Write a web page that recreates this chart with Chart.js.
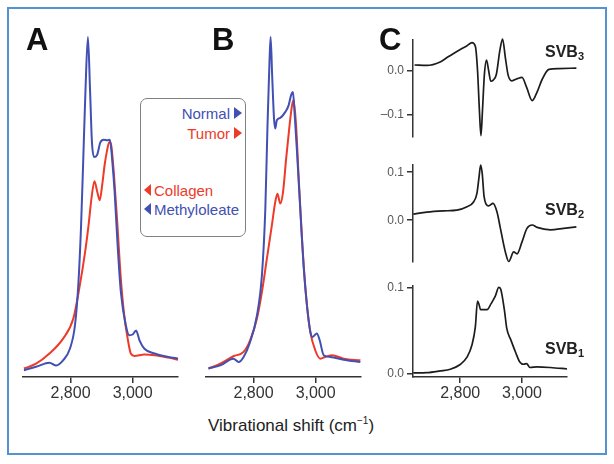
<!DOCTYPE html>
<html><head><meta charset="utf-8">
<script src="https://cdn.jsdelivr.net/npm/chart.js@4/dist/chart.umd.min.js"></script>
<style>
html,body{margin:0;padding:0;background:#fff;}
body{width:614px;height:464px;overflow:hidden;position:relative;font-family:"Liberation Sans",Arial,sans-serif;}
#frame{position:absolute;left:7px;top:7px;width:596px;height:444px;border:2px solid #5393d2;box-sizing:content-box;}
canvas{position:absolute;}
.t{position:absolute;white-space:nowrap;line-height:1;}
.panel{font-weight:bold;font-size:31px;color:#111;}
.svb{font-weight:bold;font-size:16px;color:#222;}
.svb sub{font-size:11px;vertical-align:-3px;}
#legend{position:absolute;left:140px;top:98px;width:106px;height:139px;box-sizing:border-box;border:1.5px solid #808080;border-radius:7px;background:#fff;}
.lg{font-size:15px;}
.tri{position:absolute;width:0;height:0;}
</style></head>
<body>
<div id="frame"></div>

<script>
// ---------- data ----------
const xTickValues = [2800, 3000];
const xTickLabels = ['2,800', '3,000'];

// Panel A
const aNormalX = [2650,2689,2732,2754,2776,2798,2814,2825,2834,2841,2848,2856,2863,2869,2876,2885,2896,2907,2918,2927,2934,2942,2951,2962,2978,2989,3000,3011,3022,3038,3071,3115,3146];
const aNormalY = [0.02,0.03,0.042,0.034,0.049,0.083,0.15,0.27,0.446,0.64,0.84,1.0,0.84,0.69,0.647,0.652,0.69,0.698,0.696,0.698,0.64,0.544,0.397,0.25,0.152,0.123,0.125,0.137,0.108,0.083,0.069,0.059,0.054];
const aTumorX = [2650,2689,2732,2776,2809,2830,2847,2858,2868,2877,2886,2894,2902,2910,2918,2925,2931,2940,2951,2962,2973,2984,2994,3005,3038,3071,3115,3146];
const aTumorY = [0.025,0.039,0.069,0.113,0.172,0.27,0.368,0.446,0.53,0.576,0.545,0.52,0.565,0.625,0.668,0.691,0.681,0.593,0.446,0.289,0.181,0.113,0.069,0.062,0.066,0.064,0.057,0.051];

// Panel B
const bNormalX = [2655,2693,2735,2752,2768,2789,2811,2827,2838,2845,2851,2855,2860,2866,2870,2875,2886,2902,2913,2921,2927,2932,2940,2951,2961,2972,2983,2990,3004,3013,3026,3047,3090,3144];
const bNormalY = [0.025,0.034,0.054,0.044,0.059,0.103,0.181,0.299,0.495,0.74,0.917,1.0,0.887,0.76,0.731,0.755,0.762,0.779,0.799,0.829,0.838,0.779,0.662,0.485,0.329,0.211,0.132,0.118,0.128,0.108,0.064,0.059,0.051,0.044];
const bTumorX = [2655,2693,2735,2768,2789,2811,2827,2843,2859,2870,2877,2886,2895,2905,2916,2924,2929,2937,2945,2956,2970,2983,2999,3015,3031,3053,3090,3144];
const bTumorY = [0.025,0.039,0.061,0.074,0.108,0.172,0.25,0.348,0.446,0.515,0.539,0.51,0.544,0.642,0.74,0.799,0.814,0.74,0.593,0.407,0.23,0.132,0.078,0.054,0.059,0.064,0.054,0.049];

// Panel C
const svb3X = [2652,2692,2735,2757,2789,2822,2838,2849,2856,2862,2867,2872,2878,2885,2892,2899,2906,2917,2928,2937,2946,2955,2967,2985,3000,3015,3033,3049,3065,3087,3120,3176];
const svb3Y = [0.013,0.012,0.02,0.03,0.044,0.057,0.064,0.055,0.0,-0.09,-0.148,-0.09,-0.01,0.024,0.0,-0.024,-0.022,-0.008,0.045,0.072,0.03,-0.01,-0.023,-0.018,-0.015,-0.038,-0.068,-0.048,-0.02,0.003,0.005,0.006];
const svb2X = [2648,2692,2746,2789,2822,2843,2854,2861,2866,2871,2877,2884,2892,2906,2919,2930,2946,2957,2973,2984,3000,3016,3033,3049,3092,3135,3176];
const svb2Y = [0.0126,0.017,0.0195,0.021,0.028,0.038,0.056,0.091,0.115,0.098,0.05,0.033,0.03,0.035,0.017,-0.017,-0.066,-0.086,-0.066,-0.07,-0.045,-0.017,-0.01,-0.015,-0.02,-0.017,-0.014];
const svb1X = [2648,2692,2735,2768,2800,2822,2838,2849,2856,2861,2866,2876,2887,2900,2914,2925,2931,2943,2951,2964,2979,2993,3006,3015,3026,3049,3092,3146];
const svb1Y = [0.0007,0.001,0.003,0.005,0.0105,0.019,0.033,0.054,0.084,0.08,0.074,0.074,0.074,0.081,0.09,0.1,0.098,0.074,0.052,0.039,0.025,0.0135,0.0108,0.0116,0.007,0.0077,0.007,0.0053];

const BLUE = '#4150b2';
const RED = '#ee3a29';
const FONT = '"Liberation Sans", Arial, sans-serif';

Chart.defaults.font.family = FONT;

function pts(xs, ys) { return xs.map((x, i) => ({x: x, y: ys[i]})); }
function fmtY(v) {
  if (Math.abs(v) < 1e-9) return '0.0';
  return v < 0 ? '\u2013' + Math.abs(v).toFixed(1) : v.toFixed(1);
}

function plot(c) {
  const padL = c.padL, padR = c.padR, padT = c.padT, padB = c.padB;
  const yW = c.yAxis ? 40 : 0;
  const xH = c.xAxis ? 30 : 0;
  const cv = document.createElement('canvas');
  cv.width = padL + yW + c.w + padR;
  cv.height = padT + c.h + xH + padB;
  cv.style.left = (c.left - padL - yW) + 'px';
  cv.style.top = (c.top - padT) + 'px';
  document.body.appendChild(cv);
  new Chart(cv, {
    type: 'line',
    data: {datasets: c.datasets.map(d => ({
      data: pts(d.x, d.y), borderColor: d.color, borderWidth: d.width || 2,
      pointRadius: 0, cubicInterpolationMode: 'monotone', clip: false, fill: false
    }))},
    options: {
      responsive: false, animation: false, devicePixelRatio: 1,
      layout: {padding: {left: padL, right: padR, top: padT, bottom: padB}},
      plugins: {legend: {display: false}, tooltip: {enabled: false}},
      events: [],
      scales: {
        x: {
          type: 'linear', min: c.xMin, max: c.xMax, display: !!c.xAxis, position: 'bottom',
          afterBuildTicks: s => { s.ticks = xTickValues.map(v => ({value: v})); },
          afterFit: s => { s.height = xH; },
          ticks: {
            autoSkip: false, maxRotation: 0, padding: 1, color: '#333',
            font: {family: FONT, size: 16},
            callback: v => xTickLabels[xTickValues.indexOf(v)]
          },
          grid: {drawOnChartArea: false, drawTicks: true, tickLength: 6, color: '#333', lineWidth: 1.5},
          border: {display: true, color: '#333', width: 1.5}
        },
        y: {
          type: 'linear', min: c.yMin, max: c.yMax, display: !!c.yAxis, position: 'left',
          afterBuildTicks: s => { if (c.yTicks) s.ticks = c.yTicks.map(v => ({value: v})); },
          afterFit: s => { s.width = yW; },
          ticks: {padding: 3, color: '#555', font: {family: FONT, size: 12}, callback: v => fmtY(v)},
          grid: {drawOnChartArea: false, drawTicks: true, tickLength: 6, color: '#333', lineWidth: 1.5},
          border: {display: true, color: '#333', width: 1.5}
        }
      }
    }
  });
}

// Panel A
plot({left: 23, top: 37, w: 155, h: 340, padL: 6, padR: 6, padT: 6, padB: 2,
  xMin: 2647, xMax: 3146, yMin: 0, yMax: 1, xAxis: true,
  datasets: [{x: aNormalX, y: aNormalY, color: BLUE}, {x: aTumorX, y: aTumorY, color: RED}]});
// Panel B
plot({left: 206, top: 37, w: 155, h: 340, padL: 6, padR: 6, padT: 6, padB: 2,
  xMin: 2647, xMax: 3146, yMin: 0, yMax: 1, xAxis: true,
  datasets: [{x: bNormalX, y: bNormalY, color: BLUE}, {x: bTumorX, y: bTumorY, color: RED}]});
// Panel C
plot({left: 413, top: 40, w: 164, h: 97, padL: 2, padR: 6, padT: 14, padB: 14,
  xMin: 2647, xMax: 3178, yMin: -0.151, yMax: 0.070, yAxis: true, yTicks: [0, -0.1],
  datasets: [{x: svb3X, y: svb3Y, color: '#1c1c1c', width: 1.7}]});
plot({left: 413, top: 165, w: 164, h: 97, padL: 2, padR: 6, padT: 14, padB: 14,
  xMin: 2647, xMax: 3178, yMin: -0.087, yMax: 0.115, yAxis: true, yTicks: [0.1, 0],
  datasets: [{x: svb2X, y: svb2Y, color: '#1c1c1c', width: 1.7}]});
plot({left: 413, top: 286, w: 154, h: 91, padL: 2, padR: 6, padT: 14, padB: 2,
  xMin: 2647, xMax: 3146, yMin: -0.004, yMax: 0.1015, yAxis: true, xAxis: true, yTicks: [0.1, 0],
  datasets: [{x: svb1X, y: svb1Y, color: '#1c1c1c', width: 1.7}]});
</script>

<div class="t panel" style="left:26px;top:24px;">A</div>
<div class="t panel" style="left:212px;top:24px;">B</div>
<div class="t panel" style="left:379px;top:24px;">C</div>

<div id="legend"></div>
<div class="t lg" style="right:384px;top:106px;color:#4150b2;">Normal</div>
<div class="tri" style="left:234px;top:107px;border-top:6.5px solid transparent;border-bottom:6.5px solid transparent;border-left:8px solid #4150b2;"></div>
<div class="t lg" style="right:384px;top:126px;color:#ee3a29;">Tumor</div>
<div class="tri" style="left:234px;top:127px;border-top:6.5px solid transparent;border-bottom:6.5px solid transparent;border-left:8px solid #ee3a29;"></div>
<div class="tri" style="left:144px;top:184px;border-top:6.5px solid transparent;border-bottom:6.5px solid transparent;border-right:7px solid #ee3a29;"></div>
<div class="t lg" style="left:154px;top:183px;color:#ee3a29;">Collagen</div>
<div class="tri" style="left:144px;top:203px;border-top:6.5px solid transparent;border-bottom:6.5px solid transparent;border-right:7px solid #4150b2;"></div>
<div class="t lg" style="left:154px;top:202px;color:#4150b2;">Methyloleate</div>

<div class="t svb" style="left:545px;top:44px;">SVB<sub>3</sub></div>
<div class="t svb" style="left:545px;top:202px;">SVB<sub>2</sub></div>
<div class="t svb" style="left:545px;top:341px;">SVB<sub>1</sub></div>

<div class="t" style="left:208px;top:416px;font-size:17px;color:#222;">Vibrational shift (cm<sup style="font-size:10px;vertical-align:7px;">&minus;1</sup>)</div>
</body></html>
